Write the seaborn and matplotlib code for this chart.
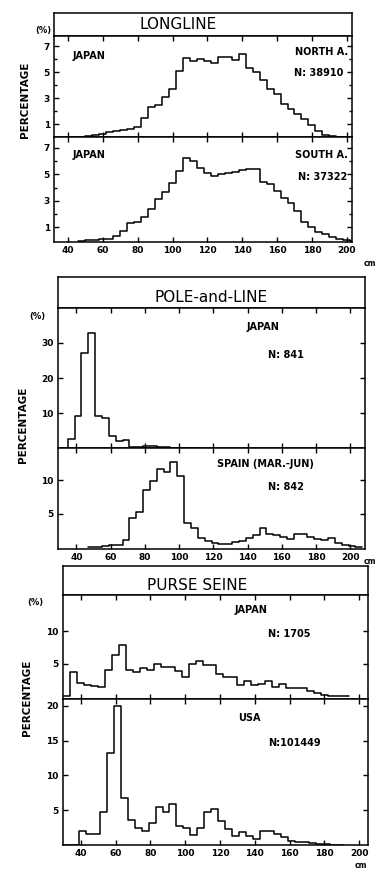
import numpy as np
import pandas as pd
import matplotlib
matplotlib.use("Agg")
import matplotlib.pyplot as plt
import seaborn as sns

# length-frequency data (percent per 4 cm class)
bin_width = 4

ll_north_start = 46
ll_north = [0, 0.05, 0.12, 0.25, 0.35, 0.45, 0.52, 0.6, 0.8, 1.45, 2.3, 2.45, 3.1, 3.7,
            5.1, 6.1, 5.9, 6.0, 5.9, 5.75, 6.2, 6.2, 5.95, 6.4, 5.3, 5.0, 4.4, 3.7, 3.35,
            2.55, 2.15, 1.75, 1.4, 0.9, 0.5, 0.15, 0.05, 0.02, 0]

ll_south_start = 46
ll_south = [0, 0.02, 0.05, 0.1, 0.15, 0.35, 0.7, 1.3, 1.42, 1.75, 2.35, 3.1, 3.65, 4.35,
            5.25, 6.2, 6.0, 5.5, 5.1, 4.85, 5.05, 5.1, 5.15, 5.35, 5.4, 5.4, 4.45, 4.3,
            3.7, 3.2, 2.8, 2.25, 1.4, 1.0, 0.68, 0.5, 0.3, 0.15, 0.05, 0]

pl_japan_start = 31
pl_japan = [0, 2.6, 9.2, 27.0, 32.8, 9.2, 8.6, 3.4, 1.9, 2.4, 0.3, 0.3, 0.5, 0.6, 0.3,
            0.2, 0.1, 0.1, 0.05, 0]

pl_spain_start = 47
pl_spain = [0, 0.05, 0.15, 0.3, 0.35, 1.1, 4.3, 5.3, 8.5, 9.8, 11.6, 11.2, 12.65, 10.6,
            3.65, 2.85, 1.4, 0.9, 0.6, 0.5, 0.5, 0.7, 0.9, 1.3, 1.8, 2.8, 2.0, 1.8, 1.5,
            1.2, 1.9, 1.9, 1.5, 1.2, 1.0, 1.4, 0.6, 0.3, 0.1, 0]

ps_japan_start = 30
ps_japan = [0, 3.8, 2.0, 1.8, 1.65, 1.45, 4.1, 6.3, 7.9, 4.1, 3.75, 4.3, 4.1, 4.95, 4.45,
            4.45, 3.9, 3.0, 4.95, 5.5, 4.85, 4.85, 3.4, 3.0, 3.0, 1.7, 2.3, 1.7, 1.9, 2.3,
            1.4, 1.9, 1.3, 1.3, 1.3, 0.9, 0.5, 0.2, 0.1, 0.05, 0]

ps_usa_start = 31
ps_usa = [0, 0, 2.0, 1.6, 1.6, 4.7, 13.3, 20.0, 6.8, 3.55, 2.4, 2.0, 3.2, 5.5, 4.7, 5.9,
          2.75, 2.5, 1.5, 2.5, 4.7, 5.15, 3.5, 2.3, 1.3, 1.8, 1.3, 0.8, 2.0, 2.0, 1.6,
          1.1, 0.6, 0.5, 0.4, 0.3, 0.15, 0.1, 0.05, 0]

x_ticks = [40, 60, 80, 100, 120, 140, 160, 180, 200]

W, H = 377, 871
sns.set_theme(style="ticks")
plt.rcParams["font.family"] = ["DejaVu Sans"]
plt.rcParams["axes.edgecolor"] = "black"
plt.rcParams["axes.linewidth"] = 1.1

fig = plt.figure(figsize=(W / 100, H / 100), dpi=100)


def rect(x0, y0, x1, y1):
    return [x0 / W, 1 - y1 / H, (x1 - x0) / W, (y1 - y0) / H]


def ftext(x, y, s, **kw):
    kw.setdefault("fontsize", 7)
    kw.setdefault("va", "center")
    kw.setdefault("fontweight", "bold")
    fig.text(x / W, 1 - y / H, s, color="black", **kw)


def panel(box, start, values, xlim, ylim, yticks, yminor=None, xlabels=False):
    ax = fig.add_axes(rect(*box))
    edges = [float(start + bin_width * i) for i in range(len(values) + 1)]
    df = pd.DataFrame({"length": [e + bin_width / 2 for e in edges[:-1]], "pct": values})
    sns.histplot(data=df, x="length", weights="pct", bins=edges, element="step",
                 fill=False, color="black", linewidth=1.1, ax=ax)
    ax.set_xlim(*xlim)
    ax.set_ylim(*ylim)
    ax.set_xticks(x_ticks)
    ax.set_yticks(yticks)
    if yminor:
        ax.set_yticks(yminor, minor=True)
    ax.set_xlabel("")
    ax.set_ylabel("")
    ax.tick_params(which="both", direction="in", top=True, right=True, bottom=True,
                   left=True, length=3.5, width=1, labelsize=6.5, colors="black", pad=3)
    ax.tick_params(which="minor", length=2.5)
    for lab in ax.get_xticklabels() + ax.get_yticklabels():
        lab.set_fontweight("bold")
    if not xlabels:
        ax.set_xticklabels([])
    for s in ax.spines.values():
        s.set_visible(True)
        s.set_color("black")
    return ax


def header(box, title, tx, ty):
    hx = fig.add_axes(rect(*box))
    hx.set_xticks([])
    hx.set_yticks([])
    hx.tick_params(which="both", length=0)
    hx.text(tx, ty, title, transform=hx.transAxes, ha="center", va="center",
            fontsize=11, color="black")


# LONGLINE
header((54, 13, 352, 36), "LONGLINE", 0.416, 0.5)
panel((54, 36, 352, 137), ll_north_start, ll_north, (32, 203), (0, 7.8), [1, 3, 5, 7], [2, 4, 6])
panel((54, 137, 352, 242), ll_south_start, ll_south, (32, 203), (-0.1, 7.8), [1, 3, 5, 7], [2, 4, 6],
      xlabels=True)
ftext(43, 31, "(%)", fontsize=6, ha="center")
ftext(25, 100, "PERCENTAGE", fontsize=7.5, rotation=90, ha="center")
ftext(73, 56, "JAPAN", ha="left")
ftext(348, 52, "NORTH A.", ha="right")
ftext(343, 73, "N: 38910", ha="right")
ftext(73, 155, "JAPAN", ha="left")
ftext(348, 155, "SOUTH A.", ha="right")
ftext(347, 177, "N: 37322", ha="right")
ftext(370, 263, "cm", fontsize=5.5, ha="center")

# POLE-and-LINE
header((58, 277, 365, 308), "POLE-and-LINE", 0.5, 0.35)
panel((58, 308, 365, 448), pl_japan_start, pl_japan, (29.3, 208.6), (0, 40), [10, 20, 30])
panel((58, 448, 365, 549), pl_spain_start, pl_spain, (29.3, 208.6), (-0.3, 14.8), [5, 10],
      xlabels=True)
ftext(37, 317, "(%)", fontsize=6, ha="center")
ftext(23, 425, "PERCENTAGE", fontsize=7.5, rotation=90, ha="center")
ftext(263, 327, "JAPAN", ha="center")
ftext(268, 355, "N: 841", ha="left")
ftext(217, 464, "SPAIN (MAR.-JUN)", ha="left")
ftext(268, 487, "N: 842", ha="left")
ftext(376, 562, "cm", fontsize=5.5, ha="right")

# PURSE SEINE
header((63, 566, 368, 595), "PURSE SEINE", 0.44, 0.33)
panel((63, 595, 368, 699), ps_japan_start, ps_japan, (29.8, 205.1), (-0.4, 15.6), [5, 10])
panel((63, 699, 368, 845), ps_usa_start, ps_usa, (29.8, 205.1), (0, 21), [5, 10, 15, 20],
      xlabels=True)
ftext(35, 602, "(%)", fontsize=6, ha="center")
ftext(27, 698, "PERCENTAGE", fontsize=7.5, rotation=90, ha="center")
ftext(235, 610, "JAPAN", ha="left")
ftext(268, 634, "N: 1705", ha="left")
ftext(238, 718, "USA", ha="left")
ftext(268, 743, "N:101449", ha="left")
ftext(361, 865, "cm", fontsize=5.5, ha="center")

fig.savefig("out.png", dpi=100, facecolor="white")
